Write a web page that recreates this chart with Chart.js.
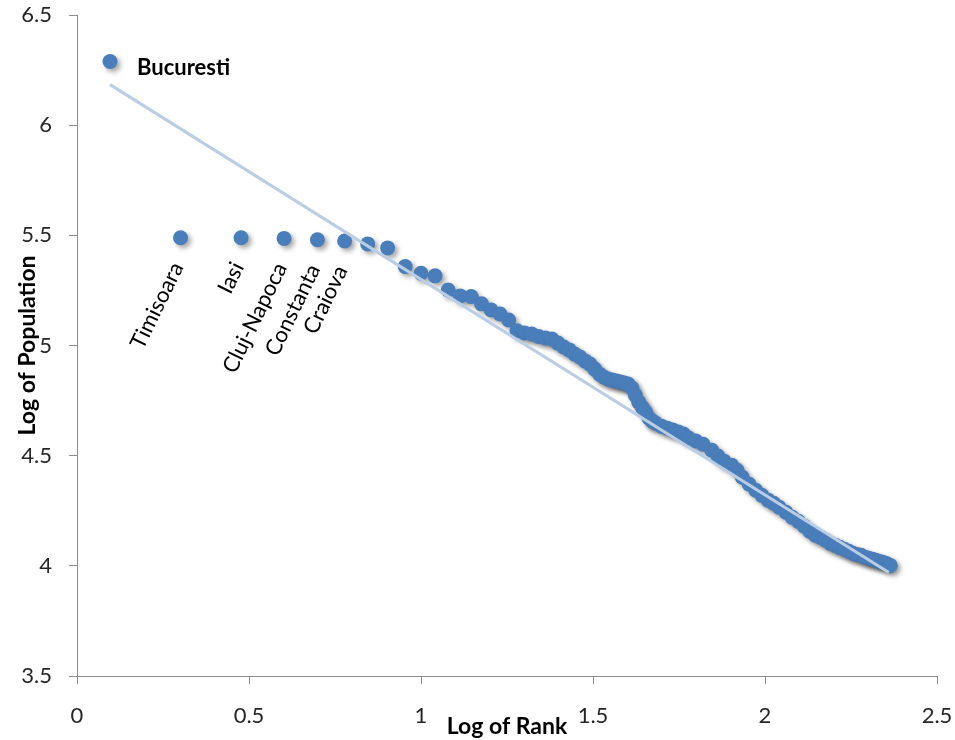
<!DOCTYPE html>
<html>
<head>
<meta charset="utf-8">
<script src="https://cdn.jsdelivr.net/npm/chart.js@4.4.0/dist/chart.umd.min.js"></script>
<style>
  html, body { margin: 0; padding: 0; background: #fff; }
  #wrap { width: 955px; height: 740px; }
</style>
</head>
<body>
<div id="wrap"><canvas id="myChart" width="955" height="740"></canvas></div>
<script>
// log of rank (x) and log of population (y)
var rankLog = [0.096, 0.301, 0.477, 0.602, 0.699, 0.778, 0.845, 0.903, 0.954, 1.000,
    1.041, 1.079, 1.114, 1.146, 1.176, 1.204, 1.230, 1.255, 1.279, 1.301,
    1.322, 1.342, 1.362, 1.380, 1.398, 1.415, 1.431, 1.447, 1.462, 1.477,
    1.491, 1.505, 1.519, 1.531, 1.544, 1.556, 1.568, 1.580, 1.591, 1.602,
    1.613, 1.623, 1.633, 1.643, 1.653, 1.663, 1.672, 1.681, 1.699, 1.716,
    1.732, 1.748, 1.763, 1.778, 1.799, 1.820, 1.845, 1.863, 1.881, 1.903,
    1.919, 1.934, 1.954, 1.973, 1.991, 2.009, 2.025, 2.041, 2.061, 2.079,
    2.097, 2.114, 2.130, 2.146, 2.161, 2.176, 2.190, 2.204, 2.217, 2.230,
    2.243, 2.255, 2.267, 2.279, 2.290, 2.301, 2.312, 2.322, 2.332, 2.342,
    2.352, 2.364];
var popLog = [6.289, 5.489, 5.489, 5.486, 5.480, 5.474, 5.461, 5.443, 5.358, 5.328,
    5.316, 5.252, 5.225, 5.222, 5.189, 5.161, 5.143, 5.116, 5.067, 5.057,
    5.052, 5.041, 5.034, 5.030, 5.011, 4.993, 4.980, 4.961, 4.948, 4.930,
    4.916, 4.893, 4.870, 4.857, 4.848, 4.843, 4.839, 4.834, 4.830, 4.825,
    4.807, 4.775, 4.743, 4.720, 4.698, 4.670, 4.657, 4.648, 4.634, 4.625,
    4.616, 4.607, 4.598, 4.580, 4.566, 4.552, 4.525, 4.498, 4.475, 4.457,
    4.434, 4.402, 4.370, 4.343, 4.320, 4.298, 4.284, 4.266, 4.243, 4.220,
    4.202, 4.180, 4.157, 4.139, 4.130, 4.116, 4.102, 4.093, 4.084, 4.075,
    4.066, 4.057, 4.052, 4.048, 4.039, 4.034, 4.030, 4.025, 4.020, 4.016,
    4.011, 4.002];
var cityNames = ['Bucuresti', 'Timisoara', 'Iasi', 'Cluj-Napoca', 'Constanta', 'Craiova'];
var trendX = [0.096, 2.36];
var trendY = [6.184, 3.970];
var xTickLabels = ['0', '0.5', '1', '1.5', '2', '2.5'];
var yTickLabels = ['3.5', '4', '4.5', '5', '5.5', '6', '6.5'];

var FONT = "Lato, 'Open Sans', sans-serif";

var points = [];
for (var i = 0; i < rankLog.length; i++) {
    points.push({x: rankLog[i], y: popLog[i]});
}
var trend = [];
for (var j = 0; j < trendX.length; j++) {
    trend.push({x: trendX[j], y: trendY[j]});
}

// drop shadow under the markers, like the excel original
var shadowPlugin = {
    id: 'shadow',
    beforeDatasetDraw: function (chart, args) {
        if (args.index !== 1) return;
        var ctx = chart.ctx;
        ctx.save();
        ctx.shadowColor = 'rgba(0,0,0,0.35)';
        ctx.shadowBlur = 5;
        ctx.shadowOffsetX = 3;
        ctx.shadowOffsetY = 3;
    },
    afterDatasetDraw: function (chart, args) {
        if (args.index !== 1) return;
        chart.ctx.restore();
    }
};

// city names next to the first points
var cityLabels = {
    id: 'cityLabels',
    afterDatasetsDraw: function (chart) {
        var ctx = chart.ctx;
        var meta = chart.getDatasetMeta(1);
        ctx.save();
        ctx.fillStyle = '#000';
        for (var k = 0; k < cityNames.length; k++) {
            var el = meta.data[k];
            if (k === 0) {
                ctx.font = 'bold 22px ' + FONT;
                ctx.textAlign = 'left';
                ctx.textBaseline = 'middle';
                ctx.fillText(cityNames[k], el.x + 27, el.y + 6);
            } else {
                ctx.save();
                ctx.translate(el.x - 3, el.y + 26);
                ctx.rotate(-64 * Math.PI / 180);
                ctx.font = '22px ' + FONT;
                ctx.textAlign = 'right';
                ctx.textBaseline = 'middle';
                ctx.fillText(cityNames[k], 0, 0);
                ctx.restore();
            }
        }
        ctx.restore();
    }
};

var ctx = document.getElementById('myChart').getContext('2d');
var myChart = new Chart(ctx, {
    type: 'scatter',
    data: {
        datasets: [{
            label: 'Trend',
            type: 'line',
            data: trend,
            borderColor: '#b9cde5',
            borderWidth: 3,
            pointRadius: 0,
            fill: false,
            order: 0
        }, {
            label: 'Cities',
            data: points,
            backgroundColor: '#4a7ebb',
            borderColor: '#4a7ebb',
            borderWidth: 0,
            pointRadius: 7.5,
            pointHoverRadius: 7.5,
            order: 1
        }]
    },
    options: {
        responsive: false,
        animation: false,
        events: [],
        layout: {autoPadding: false, padding: {top: 15, right: 18, left: 0, bottom: 0}},
        plugins: {
            legend: {display: false},
            tooltip: {enabled: false}
        },
        scales: {
            x: {
                type: 'linear',
                min: 0,
                max: 2.5,
                afterFit: function (s) {
                    s.height = 64;
                    s.paddingLeft = 0;
                    s.paddingRight = 0;
                },
                ticks: {
                    stepSize: 0.5,
                    color: '#262626',
                    font: {family: FONT, size: 22},
                    padding: 19,
                    callback: function (v, i) { return xTickLabels[i]; }
                },
                grid: {drawOnChartArea: false, drawTicks: true, tickLength: 8, color: '#8c8c8c'},
                border: {display: true, color: '#8c8c8c', width: 1},
                title: {
                    display: true,
                    text: 'Log of Rank',
                    color: '#000',
                    font: {family: FONT, size: 23, weight: 'bold'},
                    padding: {top: 0, bottom: 0}
                }
            },
            y: {
                type: 'linear',
                min: 3.5,
                max: 6.5,
                afterFit: function (s) {
                    s.width = 77;
                    s.paddingTop = 0;
                    s.paddingBottom = 0;
                },
                ticks: {
                    stepSize: 0.5,
                    color: '#262626',
                    font: {family: FONT, size: 22},
                    padding: 17,
                    callback: function (v, i) { return yTickLabels[i]; }
                },
                grid: {drawOnChartArea: false, drawTicks: true, tickLength: 8, color: '#8c8c8c'},
                border: {display: true, color: '#8c8c8c', width: 1},
                title: {
                    display: true,
                    text: 'Log of Population',
                    color: '#000',
                    font: {family: FONT, size: 23, weight: 'bold'},
                    padding: {top: 14, bottom: 0}
                }
            }
        }
    },
    plugins: [shadowPlugin, cityLabels]
});
</script>
</body>
</html>
